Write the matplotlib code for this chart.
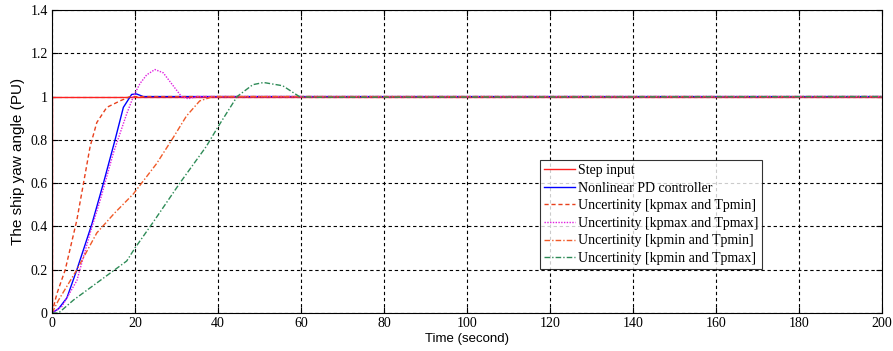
import numpy as np
import matplotlib
matplotlib.use("Agg")
import matplotlib.pyplot as plt

# step input
t_step = [0, 0, 200]
y_step = [0, 1.0, 1.0]

# nonlinear PD controller
t_pd = [0, 1.6, 3.6, 6.0, 9.6, 12.4, 15.2, 17.2, 19.2, 20.4, 22.0, 24.0, 200]
y_pd = [0, 0.02, 0.07, 0.20, 0.41, 0.60, 0.80, 0.95, 1.01, 1.012, 1.0, 1.0, 1.0]

# uncertainty kpmax / Tpmin
t_u1 = [0, 1.2, 3.2, 6.0, 9.2, 10.8, 13.2, 16.4, 18.8, 20.0, 200]
y_u1 = [0, 0.09, 0.20, 0.43, 0.77, 0.88, 0.95, 0.98, 1.0, 1.0, 1.0]

# uncertainty kpmax / Tpmax
t_u2 = [0, 2.4, 6.0, 9.2, 11.6, 14.8, 18.0, 19.6, 21.2, 22.8, 24.8, 26.8,
        29.2, 31.2, 32.8, 35.0, 200]
y_u2 = [0, 0.03, 0.15, 0.37, 0.52, 0.74, 0.92, 1.0, 1.06, 1.10, 1.125, 1.11,
        1.05, 1.0, 0.99, 1.0, 1.0]

# uncertainty kpmin / Tpmin
t_u3 = [0, 1.6, 6.0, 10.8, 15.0, 19.6, 25.2, 29.2, 32.4, 35.6, 38.8, 40.0, 200]
y_u3 = [0, 0.06, 0.20, 0.37, 0.46, 0.55, 0.69, 0.81, 0.91, 0.98, 1.0, 1.0, 1.0]

# uncertainty kpmin / Tpmax
t_u4 = [0, 1.6, 5.2, 11.6, 18.0, 20.0, 24.4, 30.8, 37.2, 40.0, 44.6, 48.4,
        51.0, 55.6, 59.6, 62.9, 200]
y_u4 = [0, 0.0, 0.06, 0.15, 0.24, 0.30, 0.42, 0.60, 0.77, 0.86, 1.0, 1.055,
        1.065, 1.05, 1.0, 0.997, 1.0]

labels = ["Step input", "Nonlinear PD controller",
          "Uncertinity [kpmax and Tpmin]", "Uncertinity [kpmax and Tpmax]",
          "Uncertinity [kpmin and Tpmin]", "Uncertinity [kpmin and Tpmax]"]

fig = plt.figure(figsize=(8.93, 3.51), dpi=100)
ax = fig.add_axes([0.0582, 0.1083, 0.9295, 0.8632])

ax.plot(t_step, y_step, color="#ff2020", lw=1.0, label=labels[0])
ax.plot(t_pd, y_pd, color="#0000ff", lw=1.0, label=labels[1])
ax.plot(t_u1, y_u1, color="#e8401c", lw=1.0, ls=(0, (3, 2)), label=labels[2])
ax.plot(t_u2, y_u2, color="#e020e0", lw=1.0, ls=(0, (1, 1)), label=labels[3])
ax.plot(t_u3, y_u3, color="#f05a28", lw=1.0, ls=(0, (4, 1.5, 1, 1.5)), label=labels[4])
ax.plot(t_u4, y_u4, color="#2e8b57", lw=1.0, ls=(0, (4, 1.5, 1, 1.5)), label=labels[5])

ax.set_xlim(0, 200)
ax.set_ylim(0, 1.4)
ax.set_xticks(np.arange(0, 201, 20))
ax.set_yticks(np.arange(0, 1.41, 0.2))
ax.set_yticklabels(["0", "0.2", "0.4", "0.6", "0.8", "1", "1.2", "1.4"])
ax.grid(True, color="black", ls=(0, (3, 2.5)), lw=0.8)
ax.tick_params(direction="in", length=4, labelsize=10, top=True, right=True, pad=3)
for lab in ax.get_xticklabels() + ax.get_yticklabels():
    lab.set_family("Liberation Serif")
ax.set_xlabel("Time (second)", fontsize=9.5, family="Liberation Sans", labelpad=2)
ax.set_ylabel("The ship yaw angle (PU)", fontsize=11, family="Liberation Sans", labelpad=4)

leg = ax.legend(loc="upper left", bbox_to_anchor=(0.588, 0.505),
                prop={"family": "Liberation Serif", "size": 10},
                frameon=True, fancybox=False, edgecolor="black",
                borderpad=0.3, labelspacing=0.33, handlelength=2.2,
                handletextpad=0.2, borderaxespad=0)
leg.get_frame().set_linewidth(0.8)

fig.savefig("out.png", dpi=100)
